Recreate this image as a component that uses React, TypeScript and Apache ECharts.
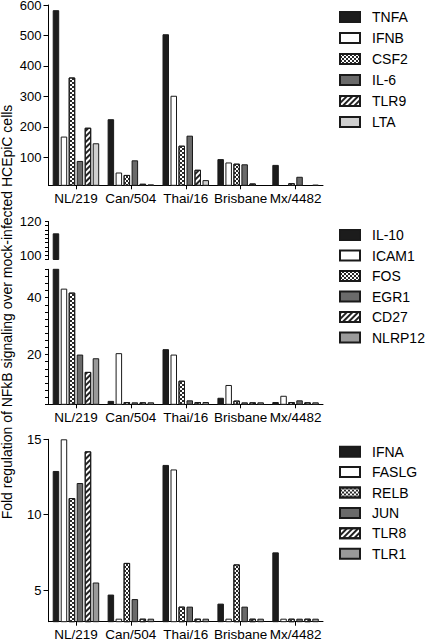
import React, { useEffect, useRef } from 'react';
import * as echarts from 'echarts';

const categories = ['NL/219', 'Can/504', 'Thai/16', 'Brisbane', 'Mx/4482'];

// Top panel
const topNames = ['TNFA', 'IFNB', 'CSF2', 'IL-6', 'TLR9', 'LTA'];
const tnfa = [583, 225, 504, 94, 75];
const ifnb = [168, 50, 302, 83, 8.8];
const csf2 = [362, 42, 138, 79, 15];
const il6 = [88, 90, 171, 77, 36];
const tlr9 = [197, 13, 59, 14, 8.3];
const lta = [146, 11, 25, 8.6, 10];
const topTicks = [100, 200, 300, 400, 500, 600];

// Middle panel
const midNames = ['IL-10', 'ICAM1', 'FOS', 'EGR1', 'CD27', 'NLRP12'];
const il10 = [113, 3.7, 21.9, 4.8, 3.3];
const icam1 = [43.2, 20.5, 20.0, 9.3, 5.5];
const fos = [41.8, 3.3, 10.8, 3.8, 3.3];
const egr1 = [20.0, 3.2, 3.9, 3.2, 3.9];
const cd27 = [13.9, 3.2, 3.3, 3.2, 3.2];
const nlrp12 = [18.7, 3.2, 3.3, 3.2, 3.2];
const midLowTicks = [20, 40];
const midHighTicks = [100, 120];
const midMinorStep = 2.5;

// Bottom panel
const botNames = ['IFNA', 'FASLG', 'RELB', 'JUN', 'TLR8', 'TLR1'];
const ifna = [12.9, 4.7, 13.3, 4.1, 7.5];
const faslg = [15.0, 3.1, 13.0, 3.1, 3.1];
const relb = [11.1, 6.8, 3.9, 6.7, 3.1];
const jun = [12.1, 4.4, 3.9, 3.9, 3.1];
const tlr8 = [14.2, 3.1, 3.1, 3.1, 3.1];
const tlr1 = [5.5, 3.1, 3.1, 3.1, 3.1];
const botTicks = [5, 10, 15];

const yTitle = 'Fold regulation of NFkB signaling over mock-infected HCEpiC cells';

const FONT = '"Liberation Sans", Arial, sans-serif';

const checker = {
  symbol: 'rect',
  symbolSize: 1,
  dashArrayX: [[1.5, 1.5], [0, 1.5, 1.5, 0]],
  dashArrayY: [1.5, 0],
  color: '#2a2a2a',
  rotation: 0,
};
const hatch = {
  symbol: 'rect',
  symbolSize: 1,
  dashArrayX: [1, 0],
  dashArrayY: [1.2, 1.9],
  color: '#222222',
  rotation: -Math.PI / 4,
};

function styleFor(j: number, light: string) {
  const base = { borderColor: '#1a1a1a', borderWidth: 1 };
  switch (j) {
    case 0: return { ...base, color: '#1c1c1c' };
    case 1: return { ...base, color: '#ffffff' };
    case 2: return { ...base, color: '#ffffff', decal: checker };
    case 3: return { ...base, color: '#6a6a6a' };
    case 4: return { ...base, color: '#ffffff', decal: hatch };
    default: return { ...base, color: light };
  }
}

const LEFT = 48.5;
const WIDTH = 274.5;

function xAxis(gridIndex: number, show = true) {
  return {
    gridIndex,
    type: 'category',
    data: categories,
    show,
    axisLine: { show: true, lineStyle: { color: '#000', width: 1 } },
    axisTick: { show: true, alignWithLabel: true, length: 4, lineStyle: { color: '#000' } },
    axisLabel: { show: true, interval: 0, fontSize: 13.5, color: '#000', margin: 6, fontFamily: FONT },
    splitLine: { show: false },
  };
}

function yAxis(gridIndex: number, min: number, max: number, labels: number[]) {
  return {
    gridIndex,
    type: 'value',
    position: 'left',
    min,
    max,
    axisLine: { show: true, lineStyle: { color: '#000', width: 1 } },
    axisTick: { show: true, length: 5, customValues: labels, lineStyle: { color: '#000' } },
    axisLabel: { show: true, customValues: labels, fontSize: 13, color: '#000', margin: 7, fontFamily: FONT },
    splitLine: { show: false },
  };
}

// Axis with a tick every `step`, labelled only at the listed values
function steppedAxis(gridIndex: number, min: number, max: number, step: number, labels: number[]) {
  return {
    gridIndex,
    type: 'value',
    position: 'left',
    min,
    max,
    interval: step,
    axisLine: { show: true, lineStyle: { color: '#000', width: 1 } },
    axisTick: { show: true, length: 3.5, lineStyle: { color: '#000' } },
    axisLabel: {
      show: true,
      fontSize: 13,
      color: '#000',
      margin: 7,
      fontFamily: FONT,
      showMinLabel: true,
      showMaxLabel: true,
      formatter: (v: number) => (labels.some((l) => Math.abs(l - v) < 1e-6) ? String(v) : ''),
    },
    splitLine: { show: false },
  };
}

function legend(names: string[], top: number, gap: number) {
  return {
    data: names,
    orient: 'vertical',
    left: 339,
    top,
    padding: 0,
    itemWidth: 20,
    itemHeight: 10,
    itemGap: gap,
    icon: 'rect',
    selectedMode: false,
    textStyle: { fontSize: 14, color: '#000', fontFamily: FONT, padding: [0, 0, 0, 7] },
  };
}

export default function App() {
  const ref = useRef<HTMLDivElement>(null);
  useEffect(() => {
    const chart = echarts.init(ref.current!, null, { renderer: 'svg' });

    const topData = [tnfa, ifnb, csf2, il6, tlr9, lta];
    const midData = [il10, icam1, fos, egr1, cd27, nlrp12];
    const botData = [ifna, faslg, relb, jun, tlr8, tlr1];
    const midHighMin = 97.5;
    const midLowMin = 2.5;

    const series: any[] = [];
    const bar = (name: string, data: any[], xi: number, yi: number, j: number, light: string) => ({
      type: 'bar',
      name,
      data,
      xAxisIndex: xi,
      yAxisIndex: yi,
      barWidth: 6.5,
      barGap: '23%',
      itemStyle: styleFor(j, light),
      emphasis: { disabled: true },
    });
    topNames.forEach((n, j) => series.push(bar(n, topData[j], 0, 0, j, '#d0d0d0')));
    midNames.forEach((n, j) =>
      series.push(bar(n, midData[j].map((v) => (v > midHighMin ? v : '-')), 1, 1, j, '#9a9a9a'))
    );
    midNames.forEach((n, j) => series.push(bar(n, midData[j], 2, 2, j, '#9a9a9a')));
    botNames.forEach((n, j) => series.push(bar(n, botData[j], 3, 3, j, '#9a9a9a')));

    const option = {
      animation: false,
      backgroundColor: '#ffffff',
      textStyle: { fontFamily: FONT },
      grid: [
        { left: LEFT, width: WIDTH, top: 5, height: 180.3, outerBoundsMode: 'none' },
        { left: LEFT, width: WIDTH, top: 221.5, height: 38, outerBoundsMode: 'none' },
        { left: LEFT, width: WIDTH, top: 269.3, height: 135, outerBoundsMode: 'none' },
        { left: LEFT, width: WIDTH, top: 439.3, height: 182.4, outerBoundsMode: 'none' },
      ],
      xAxis: [xAxis(0), xAxis(1, false), xAxis(2), xAxis(3)],
      yAxis: [
        yAxis(0, 8, 600, topTicks),
        steppedAxis(1, midHighMin, 120, midMinorStep, midHighTicks),
        steppedAxis(2, midLowMin, 50, midMinorStep, midLowTicks),
        yAxis(3, 2.9, 15, botTicks),
      ],
      legend: [legend(topNames, 10, 7), legend(midNames, 228, 6.5), legend(botNames, 444.7, 6.4)],
      graphic: [
        {
          type: 'text',
          x: 7,
          y: 312,
          rotation: Math.PI / 2,
          style: {
            text: yTitle,
            fontSize: 14,
            fontFamily: FONT,
            fill: '#000',
            align: 'center',
            verticalAlign: 'middle',
            textAlign: 'center',
            textVerticalAlign: 'middle',
          },
        },
      ],
      series,
    };
    chart.setOption(option as any);
    return () => chart.dispose();
  }, []);
  return (
    <div
      ref={ref}
      style={{ position: 'fixed', left: 0, top: 0, width: 425, height: 640, background: '#fff' }}
    />
  );
}
